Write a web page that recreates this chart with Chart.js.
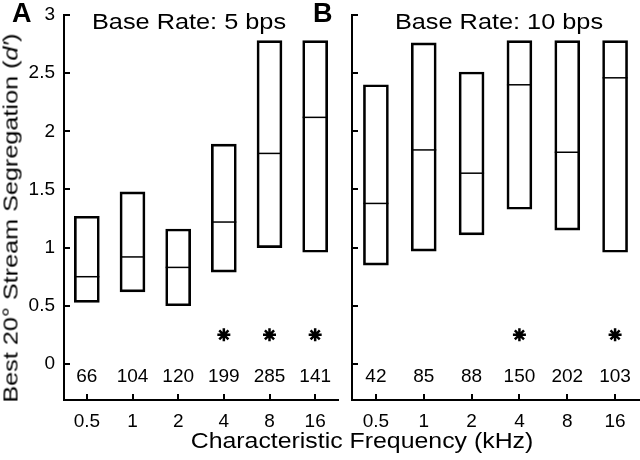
<!DOCTYPE html>
<html>
<head>
<meta charset="utf-8">
<script src="https://cdn.jsdelivr.net/npm/chart.js@4"></script>
<style>
  body { margin: 0; background: #fff; }
  #wrap { position: relative; width: 640px; height: 460px; overflow: hidden; background: #fff;
          font-family: "Liberation Sans", Arial, Helvetica, sans-serif; color: #000; }
  canvas { position: absolute; top: 0; }
  .txt { position: absolute; line-height: 1; white-space: nowrap; }
  .letter { font-weight: bold; font-size: 27px; top: 0; }
  .rate { font-size: 22px; top: 11px; transform: translateX(-50%) scaleX(1.15); }
  #xTitle { font-size: 22px; top: 430px; left: 362px; transform: translateX(-50%) scaleX(1.13); }
  #yTitle { font-size: 21px; left: 10px; top: 218px; transform: translate(-50%, -50%) rotate(-90deg) scaleX(1.2); }
</style>
</head>
<body>
<div id="wrap">
  <canvas id="chartA" width="345" height="460" style="left:0"></canvas>
  <canvas id="chartB" width="295" height="460" style="left:345px"></canvas>
  <div class="txt letter" style="left:12px">A</div>
  <div class="txt letter" style="left:313px">B</div>
  <div class="txt rate" style="left:189px">Base Rate: 5 bps</div>
  <div class="txt rate" style="left:499px">Base Rate: 10 bps</div>
  <div class="txt" id="xTitle">Characteristic Frequency (kHz)</div>
  <div class="txt" id="yTitle">Best 20° Stream Segregation (<i>d′</i>)</div>
</div>
<script>
// Data
const freqLabels = ['0.5', '1', '2', '4', '8', '16'];
const yTickValues = [0, 0.5, 1, 1.5, 2, 2.5, 3];

const lowA = [0.53, 0.62, 0.50, 0.79, 1.00, 0.96];
const medA = [0.75, 0.92, 0.83, 1.22, 1.81, 2.12];
const highA = [1.27, 1.48, 1.16, 1.89, 2.78, 2.78];
const countsA = [66, 104, 120, 199, 285, 141];
const starsA = [null, null, null, 0.25, 0.25, 0.25];

const lowB = [0.85, 0.97, 1.11, 1.33, 1.15, 0.96];
const medB = [1.38, 1.84, 1.64, 2.40, 1.82, 2.46];
const highB = [2.40, 2.76, 2.51, 2.78, 2.78, 2.78];
const countsB = [42, 85, 88, 150, 202, 103];
const starsB = [null, null, null, 0.25, null, 0.25];

const yMin = -0.31, yMax = 3;
const countY = -0.11;

const FONT = '"Liberation Sans", Arial, Helvetica, sans-serif';

function countsPlugin(counts) {
  return {
    id: 'counts',
    afterDatasetsDraw(chart) {
      const ctx = chart.ctx, x = chart.scales.x, y = chart.scales.y;
      ctx.save();
      ctx.font = '19px ' + FONT;
      ctx.fillStyle = '#000';
      ctx.textAlign = 'center';
      ctx.textBaseline = 'middle';
      counts.forEach((c, i) => ctx.fillText(String(c), x.getPixelForValue(i), y.getPixelForValue(countY)));
      ctx.restore();
    }
  };
}

function makePanel(id, low, med, high, stars, counts, yWidth, showYLabels, padRight) {
  new Chart(document.getElementById(id), {
    type: 'bar',
    data: {
      labels: freqLabels,
      datasets: [
        {
          type: 'line',
          data: stars,
          showLine: false,
          pointStyle: 'star',
          pointRadius: 6.5,
          pointBorderWidth: 2.5,
          pointBorderColor: '#000',
          pointBackgroundColor: '#000',
          clip: false,
          order: 0
        },
        {
          type: 'line',
          data: med,
          showLine: false,
          pointStyle: 'line',
          pointRadius: 12.5,
          pointBorderWidth: 1.5,
          pointBorderColor: '#000',
          clip: false,
          order: 1
        },
        {
          type: 'bar',
          data: low.map((v, i) => [v, high[i]]),
          backgroundColor: 'rgba(255,255,255,0)',
          borderColor: '#000',
          borderWidth: 2,
          borderSkipped: false,
          barThickness: 25,
          order: 2
        }
      ]
    },
    options: {
      responsive: false,
      animation: false,
      layout: { autoPadding: false, padding: { left: 0, top: 15, right: padRight, bottom: 0 } },
      plugins: { legend: { display: false }, tooltip: { enabled: false } },
      scales: {
        x: {
          offset: true,
          grid: { offset: false, drawOnChartArea: false, color: '#000', lineWidth: 2, tickLength: -6 },
          border: { color: '#000', width: 2 },
          ticks: { color: '#000', padding: 16, font: { size: 19, family: FONT } },
          afterFit(s) { s.height = 60; s.paddingLeft = 0; s.paddingRight = 0; }
        },
        y: {
          min: yMin,
          max: yMax,
          grid: { drawOnChartArea: false, color: '#000', lineWidth: 2, tickLength: -6 },
          border: { color: '#000', width: 2 },
          ticks: {
            display: showYLabels,
            color: '#000',
            padding: 15,
            font: { size: 19, family: FONT },
            callback: v => String(v)
          },
          afterBuildTicks(s) { s.ticks = yTickValues.map(v => ({ value: v })); },
          afterFit(s) { s.width = yWidth; s.paddingTop = 0; s.paddingBottom = 0; }
        }
      }
    },
    plugins: [countsPlugin(counts)]
  });
}

makePanel('chartA', lowA, medA, highA, starsA, countsA, 64, true, 7);
makePanel('chartB', lowB, medB, highB, starsB, countsB, 7, false, 1);
</script>
</body>
</html>
